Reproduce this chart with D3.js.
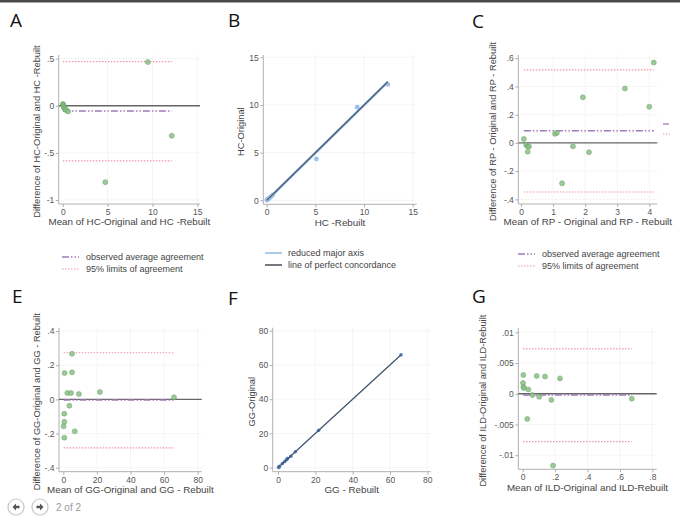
<!DOCTYPE html>
<html>
<head>
<meta charset="utf-8">
<script src="https://cdn.jsdelivr.net/npm/d3@7"></script>
<style>
  body { margin: 0; background: #fff; }
  svg { display: block; font-family: "Liberation Sans", Arial, sans-serif; }
</style>
</head>
<body>
<div id="chart"></div>
<script>
// ---- data ----
// A: HC Bland-Altman
const hcMean = [0.02, 0.05, 0.08, 0.1, 0.15, 0.2, 0.3, 0.45, 0.6, 4.75, 9.48, 12.15];
const hcDiff = [0.02, 0.01, 0.0, -0.01, -0.02, -0.03, -0.04, -0.05, -0.06, -0.81, 0.464, -0.318];
const hcAgreement = [-0.056, -0.585, 0.468]; // average, lower, upper

// B: HC original vs rebuilt
const hcRebuilt = [0.01, 0.05, 0.08, 0.1, 0.16, 0.22, 0.32, 0.48, 0.63, 5.1, 9.3, 12.45];
const hcOriginal = [0.03, 0.06, 0.08, 0.09, 0.14, 0.2, 0.28, 0.43, 0.57, 4.33, 9.77, 12.15];
const hcRma = [1.0, -0.03]; // slope, intercept

// C: RP Bland-Altman
const rpMean = [0.09, 0.16, 0.21, 0.25, 0.21, 1.06, 1.12, 1.28, 1.62, 1.93, 2.12, 3.24, 4.0, 4.14];
const rpDiff = [0.028, -0.014, -0.024, -0.026, -0.062, 0.064, 0.071, -0.286, -0.024, 0.323, -0.066, 0.385, 0.257, 0.569];
const rpAgreement = [0.086, -0.348, 0.517];

// E: GG Bland-Altman
const ggMean = [5.2, 0.8, 5.2, 2.4, 4.6, 9.3, 21.8, 3.6, 0.6, 0.6, 0.2, 0.6, 6.8, 65.9];
const ggDiff = [0.267, 0.154, 0.158, 0.037, 0.037, 0.031, 0.043, -0.037, -0.084, -0.131, -0.158, -0.224, -0.187, 0.012];
const ggAgreement = [-0.004, -0.284, 0.273];

// F: GG original vs rebuilt
const ggRebuilt = [5.07, 0.72, 5.12, 2.38, 4.58, 9.28, 21.78, 3.62, 0.64, 0.67, 0.28, 0.71, 6.89, 65.9];
const ggOriginal = [5.33, 0.88, 5.28, 2.42, 4.62, 9.32, 21.82, 3.58, 0.56, 0.53, 0.12, 0.49, 6.71, 65.9];
const ggRma = [1.0, 0.0];

// G: ILD Bland-Altman
const ildMean = [0.004, 0.002, 0.004, 0.008, 0.035, 0.06, 0.028, 0.086, 0.102, 0.138, 0.177, 0.187, 0.23, 0.673];
const ildDiff = [0.00305, 0.00174, 0.00109, 0.00093, 0.0007, -0.0002, -0.0041, 0.0029, -0.0005, 0.0028, -0.001, -0.0117, 0.0025, -0.0008];
const ildAgreement = [-0.0002, -0.0078, 0.0073];

// tick values
const hcDiffTicks = [-1, -0.5, 0, 0.5];
const hcTicks = [0, 5, 10, 15];
const rpDiffTicks = [-0.4, -0.2, 0, 0.2, 0.4, 0.6];
const rpMeanTicks = [0, 1, 2, 3, 4];
const ggDiffTicks = [-0.4, -0.2, 0, 0.2, 0.4];
const ggTicks = [0, 20, 40, 60, 80];
const ildDiffTicks = [-0.01, -0.005, 0, 0.005, 0.01];
const ildMeanTicks = [0, 0.2, 0.4, 0.6, 0.8];

const baLegend = ["observed average agreement", "95% limits of agreement"];
const concLegend = ["reduced major axis", "line of perfect concordance"];

// ---- styles ----
const green = "#8cc088", greenEdge = "#66a362";
const meanColor = "#a07ab8", limitColor = "#ef93aa";
const meanDash = "7,2,1.5,2,1.5,2", limitDash = "1.5,1.5";
const zeroColor = "#666", axisColor = "#b0b0b0", labelColor = "#444";
const rmaColor = "#8fb8e6", concColor = "#474d57";

const width = 680, height = 520;

const svg = d3.select("#chart")
    .append("svg")
    .attr("width", width)
    .attr("height", height)
    .attr("viewBox", `0 0 ${width} ${height}`);

svg.append("rect").attr("width", width).attr("height", height).attr("fill", "#fff");
// dark strip along the top of the screenshot
svg.append("rect").attr("width", width).attr("height", 2.5).attr("fill", "#4a4a4a");

const stataFmt = v => String(+v.toFixed(4)).replace("0.", ".");

// layout per panel: frame in px, domains at the frame edges
const panels = [
    { letter: "A", lx: 10, ly: 27, kind: "ba", l: 58.7, r: 200, t: 55, b: 204,
      xDom: [-0.45, 15.3], yDom: [-1.042, 0.539], xTicks: hcTicks, yTicks: hcDiffTicks,
      xs: hcMean, ys: hcDiff, agree: hcAgreement,
      xTitle: "Mean of HC-Original and HC -Rebuilt", yTitle: "Difference of HC-Original and HC -Rebuilt",
      xTitleY: 225, yTitleX: 37, legend: { x: 62, y: 257 } },
    { letter: "B", lx: 228, ly: 27, kind: "conc", l: 263.3, r: 416.7, t: 55, b: 204.3,
      xDom: [-0.35, 15.41], yDom: [-0.42, 15.24], xTicks: hcTicks, yTicks: hcTicks,
      xs: hcRebuilt, ys: hcOriginal, rma: hcRma, rmaWidth: 2.6, ptR: 2.4, ptColor: "#9cc1ea",
      xTitle: "HC -Rebuilt", yTitle: "HC-Original",
      xTitleY: 226, yTitleX: 241, legend: { x: 265, y: 253 } },
    { letter: "C", lx: 472, ly: 28, kind: "ba", l: 518.3, r: 657.3, t: 55, b: 204,
      xDom: [-0.084, 4.25], yDom: [-0.433, 0.623], xTicks: rpMeanTicks, yTicks: rpDiffTicks,
      xs: rpMean, ys: rpDiff, agree: rpAgreement,
      xTitle: "Mean of RP - Original and RP - Rebuilt", yTitle: "Difference of RP - Original and RP - Rebuilt",
      xTitleY: 225, yTitleX: 493, legend: { x: 518, y: 254 } },
    { letter: "E", lx: 12, ly: 303, kind: "ba", l: 59, r: 201.7, t: 327.7, b: 471.7,
      xDom: [-2.56, 82.4], yDom: [-0.4234, 0.4195], xTicks: ggTicks, yTicks: ggDiffTicks,
      xs: ggMean, ys: ggDiff, agree: ggAgreement,
      xTitle: "Mean of GG-Original and GG - Rebuilt", yTitle: "Difference of GG-Original and GG - Rebuilt",
      xTitleY: 493, yTitleX: 37 },
    { letter: "F", lx: 228, ly: 305, kind: "conc", l: 272.7, r: 430.7, t: 327.7, b: 471.7,
      xDom: [-2.84, 81.8], yDom: [-2.34, 81.75], xTicks: ggTicks, yTicks: ggTicks,
      xs: ggRebuilt, ys: ggOriginal, rma: ggRma, rmaWidth: 1.4, ptR: 1.8, ptColor: "#4f80c4",
      xTitle: "GG - Rebuilt", yTitle: "GG-Original",
      xTitleY: 493, yTitleX: 252 },
    { letter: "G", lx: 472, ly: 303, kind: "ba", l: 518.3, r: 656.7, t: 328, b: 469.3,
      xDom: [-0.0272, 0.827], yDom: [-0.0123, 0.0107], xTicks: ildMeanTicks, yTicks: ildDiffTicks,
      xs: ildMean, ys: ildDiff, agree: ildAgreement,
      xTitle: "Mean of ILD-Original and ILD-Rebuilt", yTitle: "Difference of ILD-Original and ILD-Rebuilt",
      xTitleY: 491, yTitleX: 483 }
];

panels.forEach(p => {
    const g = svg.append("g");
    const x = d3.scaleLinear().domain(p.xDom).range([p.l, p.r]);
    const y = d3.scaleLinear().domain(p.yDom).range([p.b, p.t]);

    // panel letter
    svg.append("text")
        .attr("x", p.lx).attr("y", p.ly)
        .style("font-family", "'Open Sans', sans-serif")
        .style("font-size", "19px")
        .style("fill", "#111")
        .text(p.letter);

    // faint grid
    g.selectAll(".gx").data(p.xTicks.filter(v => v !== 0)).enter().append("line")
        .attr("x1", d => x(d)).attr("x2", d => x(d))
        .attr("y1", p.t).attr("y2", p.b)
        .attr("stroke", "#f3f3f3").attr("stroke-width", 0.8);
    g.selectAll(".gy").data(p.yTicks.filter(v => v !== 0 || p.kind === "conc")).enter().append("line")
        .attr("x1", p.l).attr("x2", p.r)
        .attr("y1", d => y(d)).attr("y2", d => y(d))
        .attr("stroke", "#f3f3f3").attr("stroke-width", 0.8);

    // axes
    const xAxis = g.append("g")
        .attr("transform", `translate(0,${p.b})`)
        .call(d3.axisBottom(x).tickValues(p.xTicks).tickFormat(stataFmt).tickSizeOuter(0).tickSize(3).tickPadding(2));
    const yAxis = g.append("g")
        .attr("transform", `translate(${p.l},0)`)
        .call(d3.axisLeft(y).tickValues(p.yTicks).tickFormat(stataFmt).tickSizeOuter(0).tickSize(3).tickPadding(1.5));
    [xAxis, yAxis].forEach(a => {
        a.select(".domain").remove();
        a.selectAll("line").attr("stroke", axisColor);
        a.selectAll("text").style("font-size", "8.5px").style("fill", "#555")
            .style("font-family", "'Liberation Sans', Arial, sans-serif");
    });
    g.append("line").attr("x1", p.l).attr("x2", p.r).attr("y1", p.b).attr("y2", p.b)
        .attr("stroke", axisColor);
    g.append("line").attr("x1", p.l).attr("x2", p.l).attr("y1", p.t).attr("y2", p.b)
        .attr("stroke", axisColor);

    // axis titles
    g.append("text")
        .attr("x", (p.l + p.r) / 2).attr("y", p.xTitleY)
        .style("text-anchor", "middle").style("font-size", "9.8px").style("fill", labelColor)
        .text(p.xTitle);
    g.append("text")
        .attr("transform", `translate(${p.yTitleX},${(p.t + p.b) / 2 + 2}) rotate(-90)`)
        .attr("dy", "0.35em")
        .style("text-anchor", "middle").style("font-size", "9.3px").style("fill", labelColor)
        .text(p.yTitle);

    if (p.kind === "ba") {
        const [xmin, xmax] = d3.extent(p.xs);
        // limits of agreement
        g.selectAll(".lim").data(p.agree.slice(1)).enter().append("line")
            .attr("x1", x(xmin)).attr("x2", x(xmax))
            .attr("y1", d => y(d)).attr("y2", d => y(d))
            .attr("stroke", limitColor).attr("stroke-width", 1.2)
            .attr("stroke-dasharray", limitDash);
        // zero line
        g.append("line")
            .attr("x1", p.l).attr("x2", p.r).attr("y1", y(0)).attr("y2", y(0))
            .attr("stroke", zeroColor).attr("stroke-width", 1.4);
        // average agreement
        g.append("line")
            .attr("x1", x(xmin)).attr("x2", x(xmax))
            .attr("y1", y(p.agree[0])).attr("y2", y(p.agree[0]))
            .attr("stroke", meanColor).attr("stroke-width", 1.5)
            .attr("stroke-dasharray", meanDash);
        // points
        g.selectAll(".pt").data(p.xs).enter().append("circle")
            .attr("cx", d => x(d))
            .attr("cy", (d, i) => y(p.ys[i]))
            .attr("r", 2.5)
            .attr("fill", green).attr("fill-opacity", 0.85)
            .attr("stroke", greenEdge).attr("stroke-width", 0.5);
    } else {
        const [xmin, xmax] = d3.extent(p.xs);
        const [slope, icpt] = p.rma;
        // reduced major axis
        g.append("line")
            .attr("x1", x(xmin)).attr("x2", x(xmax))
            .attr("y1", y(icpt + slope * xmin)).attr("y2", y(icpt + slope * xmax))
            .attr("stroke", rmaColor).attr("stroke-width", p.rmaWidth);
        // points
        g.selectAll(".pt").data(p.xs).enter().append("circle")
            .attr("cx", d => x(d))
            .attr("cy", (d, i) => y(p.ys[i]))
            .attr("r", p.ptR)
            .attr("fill", p.ptColor);
        // perfect concordance
        g.append("line")
            .attr("x1", x(Math.min(0, xmin))).attr("x2", x(xmax))
            .attr("y1", y(Math.min(0, xmin))).attr("y2", y(xmax))
            .attr("stroke", concColor).attr("stroke-width", 1.1);
    }

    // legend
    if (p.legend) {
        const lg = svg.append("g").attr("transform", `translate(${p.legend.x},${p.legend.y})`);
        const labels = p.kind === "ba" ? baLegend : concLegend;
        const styles = p.kind === "ba"
            ? [{ c: meanColor, d: meanDash, w: 1.5 }, { c: limitColor, d: limitDash, w: 1.2 }]
            : [{ c: rmaColor, d: null, w: 1.5 }, { c: concColor, d: null, w: 1.5 }];
        labels.forEach((lab, i) => {
            lg.append("line")
                .attr("x1", 0).attr("x2", 17).attr("y1", i * 12).attr("y2", i * 12)
                .attr("stroke", styles[i].c).attr("stroke-width", styles[i].w)
                .attr("stroke-dasharray", styles[i].d);
            lg.append("text")
                .attr("x", p.kind === "ba" ? 24 : 23).attr("y", i * 12).attr("dy", "0.35em")
                .style("font-size", "9px").style("fill", labelColor)
                .text(lab);
        });
    }
});

// clipped legend keys from the neighbouring panel at the right edge
svg.append("line").attr("x1", 663).attr("x2", 669).attr("y1", 124).attr("y2", 124)
    .attr("stroke", meanColor).attr("stroke-width", 1.3);
svg.append("line").attr("x1", 663).attr("x2", 670).attr("y1", 134).attr("y2", 134)
    .attr("stroke", limitColor).attr("stroke-width", 1.1).attr("stroke-dasharray", limitDash);

// viewer navigation (left / right arrows)
const nav = svg.append("g");
[16, 40].forEach((cx, i) => {
    nav.append("circle").attr("cx", cx).attr("cy", 507).attr("r", 8)
        .attr("fill", "#fff").attr("stroke", "#c8c8c8").attr("stroke-width", 1.2);
    const s = i === 0 ? 1 : -1; // tip direction
    nav.append("path")
        .attr("d", `M${cx - 3.5 * s},507 L${cx},503.5 L${cx},505.8 L${cx + 3.5 * s},505.8 L${cx + 3.5 * s},508.2 L${cx},508.2 L${cx},510.5 Z`)
        .attr("fill", "#555");
});
nav.append("text").attr("x", 56).attr("y", 510.5)
    .style("font-size", "10px").style("fill", "#999")
    .text("2 of 2");
</script>
</body>
</html>
